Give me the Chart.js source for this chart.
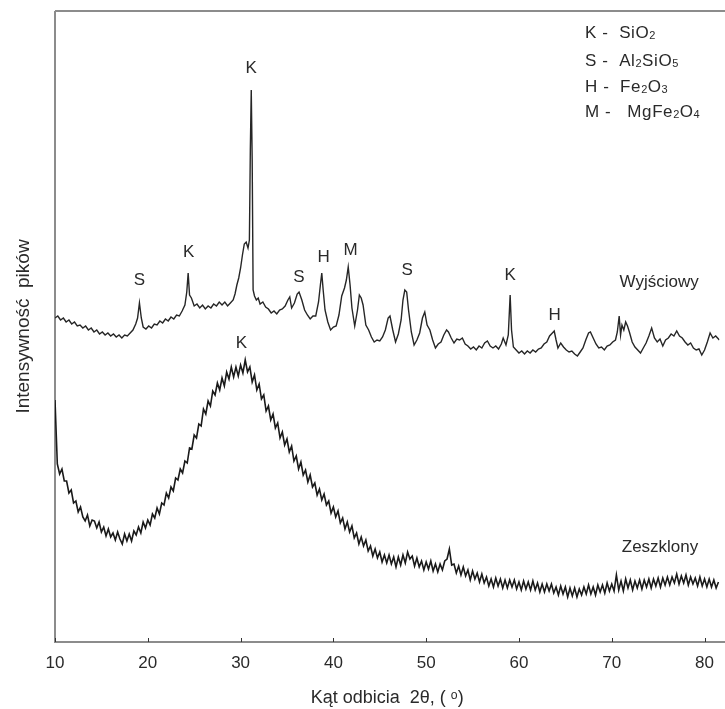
<!DOCTYPE html>
<html>
<head>
<meta charset="utf-8">
<script src="https://cdn.jsdelivr.net/npm/chart.js@4.4.0/dist/chart.umd.min.js"></script>
<style>
  html, body { margin: 0; padding: 0; background: #fff; }
  #wrap { width: 725px; height: 709px; }
</style>
</head>
<body>
<div id="wrap"><canvas id="xrdChart" width="725" height="709"></canvas></div>
<script>
'use strict';

// 2 theta angles and intensities (arbitrary units) of the original sample
let upperAngle = [
  10.0, 10.3, 10.6, 10.9, 11.2, 11.5, 11.8, 12.1, 12.4, 12.7,
  13.0, 13.3, 13.6, 13.9, 14.2, 14.5, 14.8, 15.1, 15.4, 15.7,
  16.0, 16.3, 16.6, 16.9, 17.2, 17.5, 17.8, 18.1, 18.4, 18.7,
  18.9, 19.1, 19.3, 19.5, 19.8, 20.1, 20.4, 20.7, 21.0, 21.3,
  21.6, 21.9, 22.2, 22.5, 22.8, 23.1, 23.4, 23.7, 24.0, 24.2,
  24.35, 24.5, 24.7, 25.0, 25.3, 25.6, 25.9, 26.2, 26.5, 26.8,
  27.1, 27.4, 27.7, 28.0, 28.3, 28.6, 28.9, 29.2, 29.4, 29.6,
  29.8, 30.0, 30.2, 30.4, 30.6, 30.8, 30.95, 31.05, 31.15, 31.25,
  31.35, 31.5, 31.7, 31.9, 32.1, 32.4, 32.7, 33.0, 33.3, 33.6,
  33.9, 34.2, 34.5, 34.8, 35.1, 35.3, 35.5, 35.8, 36.1, 36.3,
  36.6, 36.9, 37.2, 37.5, 37.8, 38.1, 38.4, 38.6, 38.75, 38.9,
  39.1, 39.4, 39.7, 40.0, 40.3, 40.6, 40.9, 41.2, 41.4, 41.6,
  41.8, 42.0, 42.3, 42.6, 42.8, 43.0, 43.2, 43.5, 43.8, 44.1,
  44.4, 44.7, 45.0, 45.3, 45.6, 45.9, 46.1, 46.4, 46.7, 47.0,
  47.3, 47.5, 47.7, 47.9, 48.1, 48.4, 48.7, 49.0, 49.3, 49.6,
  49.85, 50.1, 50.4, 50.7, 51.0, 51.3, 51.6, 51.9, 52.2, 52.4,
  52.7, 53.0, 53.3, 53.6, 53.9, 54.2, 54.5, 54.8, 55.1, 55.4,
  55.7, 56.0, 56.3, 56.6, 56.9, 57.2, 57.5, 57.8, 58.1, 58.3,
  58.6, 58.85, 59.05, 59.2, 59.4, 59.7, 60.0, 60.3, 60.6, 60.9,
  61.2, 61.5, 61.8, 62.1, 62.4, 62.7, 63.0, 63.3, 63.6, 63.8,
  64.0, 64.2, 64.5, 64.8, 65.1, 65.4, 65.7, 66.0, 66.3, 66.6,
  66.9, 67.2, 67.5, 67.7, 68.0, 68.3, 68.6, 68.9, 69.2, 69.5,
  69.8, 70.1, 70.4, 70.6, 70.8, 70.95, 71.1, 71.3, 71.5, 71.7,
  71.9, 72.2, 72.5, 72.8, 73.1, 73.4, 73.7, 74.0, 74.3, 74.6,
  74.9, 75.2, 75.5, 75.8, 76.1, 76.4, 76.7, 77.0, 77.3, 77.6,
  77.9, 78.2, 78.5, 78.8, 79.1, 79.4, 79.7, 80.0, 80.3, 80.6,
  80.9, 81.2, 81.6
];
let upperIntensity = [
  324, 326, 322, 324, 320, 322, 318, 320, 316, 317,
  314, 316, 312, 314, 310, 312, 308, 310, 307, 309,
  306, 308, 305, 307, 304, 307, 306, 309, 312, 318,
  324, 339, 324, 315, 313, 316, 314, 318, 317, 321,
  319, 323, 321, 325, 323, 327, 326, 331, 337, 350,
  369, 347, 344, 336, 338, 334, 337, 333, 336, 334,
  338, 336, 340, 337, 340, 336, 339, 342, 348, 357,
  364, 374, 387, 398, 400, 394, 402, 492, 552, 482,
  352, 346, 342, 344, 338, 340, 335, 333, 329, 331,
  328, 332, 333, 336, 342, 345, 334, 339, 348, 350,
  342, 332, 327, 323, 326, 326, 340, 357, 369, 352,
  332, 320, 312, 315, 316, 327, 346, 354, 362, 375,
  357, 334, 316, 332, 347, 344, 337, 317, 312, 305,
  300, 302, 301, 305, 312, 324, 326, 312, 300, 308,
  322, 342, 352, 350, 332, 310, 297, 302, 309, 324,
  330, 317, 312, 302, 294, 298, 300, 307, 312, 310,
  304, 299, 303, 302, 304, 298, 296, 293, 295, 292,
  296, 294, 299, 301, 296, 294, 296, 293, 298, 304,
  297, 307, 347, 312, 295, 292, 289, 291, 288, 291,
  289, 292, 290, 293, 294, 298, 300, 306, 309, 311,
  302, 294, 299, 295, 292, 290, 291, 288, 286, 290,
  294, 302, 309, 310, 304, 298, 294, 295, 292, 296,
  297, 300, 302, 310, 326, 307, 317, 312, 320, 316,
  310, 300, 295, 292, 289, 294, 299, 306, 314, 304,
  300, 303, 296, 302, 304, 308, 306, 311, 306, 304,
  300, 297, 299, 294, 292, 293, 287, 292, 300, 309,
  304, 306, 302
];

// vitrified sample, sampled every 0.25 degree from 10
let lowerStart = 10;
let lowerStep = 0.25;
let lowerIntensity = [
  242, 178, 168, 173,
  161, 161, 149, 152,
  139, 141, 130, 135,
  125, 121, 127, 116,
  122, 121, 114, 120,
  110, 115, 106, 113,
  105, 109, 102, 110,
  103, 98, 108, 101,
  108, 101, 111, 107,
  115, 109, 120, 114,
  122, 117, 128, 124,
  134, 128, 139, 137,
  149, 144, 155, 151,
  164, 162, 173, 169,
  181, 179, 194, 193,
  207, 204, 218, 216,
  233, 228, 241, 236,
  251, 247, 259, 252,
  264, 256, 270, 263,
  275, 265, 275, 266,
  277, 269, 282, 270,
  275, 260, 267, 252,
  258, 243, 247, 231,
  236, 222, 228, 214,
  219, 204, 210, 197,
  203, 190, 196, 181,
  186, 173, 180, 167,
  172, 160, 167, 155,
  159, 147, 153, 142,
  148, 137, 141, 129,
  135, 125, 131, 119,
  124, 113, 120, 110,
  116, 104, 109, 98,
  105, 96, 102, 91,
  96, 86, 93, 84,
  90, 80, 87, 79,
  87, 78, 85, 75,
  85, 77, 87, 79,
  90, 83, 86, 76,
  84, 75, 81, 72,
  80, 73, 81, 71,
  78, 70, 78, 72,
  81, 83, 93, 77,
  78, 69, 76, 67,
  75, 66, 72, 62,
  71, 63, 69, 60,
  68, 59, 65, 56,
  63, 55, 64, 56,
  63, 54, 62, 54,
  62, 55, 62, 53,
  60, 52, 61, 53,
  60, 52, 61, 52,
  59, 50, 58, 50,
  58, 51, 58, 49,
  55, 47, 56, 48,
  55, 45, 54, 46,
  54, 45, 53, 47,
  55, 48, 57, 48,
  55, 47, 57, 50,
  57, 49, 59, 51,
  58, 51, 67, 52,
  61, 51, 63, 54,
  62, 52, 61, 54,
  62, 53, 62, 55,
  63, 54, 63, 56,
  64, 55, 64, 57,
  65, 57, 65, 59,
  68, 58, 66, 59,
  67, 57, 65, 58,
  64, 56, 65, 56,
  63, 55, 63, 55,
  62, 54, 60
];

let xTicks = [10, 20, 30, 40, 50, 60, 70, 80];

// phase letters above the peaks: text, angle, intensity
let peakText = ['S', 'K', 'K', 'S', 'H', 'M', 'S', 'K', 'H', 'K', 'Wyjściowy', 'Zeszklony'];
let peakAngle = [19.1, 24.4, 31.15, 36.3, 38.95, 41.85, 47.95, 59.05, 63.85, 30.1, 75.1, 75.2];
let peakLevel = [362, 390, 574, 365, 385, 392, 372, 367, 327, 299, 360, 95];

let legendLines = ['K -  SiO_2', 'S -  Al_2SiO_5', 'H -  Fe_2O_3', 'M -   MgFe_2O_4'];

let fontFamily = '"Liberation Sans", Arial, sans-serif';
let textColor = '#2a2a2a';
let axisColor = '#8c8c8c';

function toPoints(angles, values) {
  let pts = [];
  for (let i = 0; i < values.length; i++) {
    pts.push({ x: angles[i], y: values[i] });
  }
  return pts;
}

function lowerPoints() {
  let pts = [];
  lowerIntensity.forEach(function (v, i) {
    pts.push({ x: lowerStart + i * lowerStep, y: v });
  });
  return pts;
}

// text with "_" marking the next character as subscript
function drawRich(ctx, str, x, y, size) {
  let cx = x;
  for (let i = 0; i < str.length; i++) {
    let ch = str[i];
    if (ch === '_') {
      i++;
      ctx.font = Math.round(size * 0.62) + 'px ' + fontFamily;
      ctx.fillText(str[i], cx, y + size * 0.2);
      cx += ctx.measureText(str[i]).width + 0.5;
    } else {
      ctx.font = size + 'px ' + fontFamily;
      ctx.fillText(ch, cx, y);
      cx += ctx.measureText(ch).width + 0.6;
    }
  }
}

let framePlugin = {
  id: 'frame',
  beforeDatasetsDraw: function (chart) {
    let ctx = chart.ctx;
    let area = chart.chartArea;
    let xs = chart.scales.x;
    ctx.save();
    ctx.strokeStyle = axisColor;
    ctx.lineWidth = 2;
    ctx.beginPath();
    ctx.moveTo(area.left, area.top);
    ctx.lineTo(chart.width, area.top);
    ctx.moveTo(area.left, area.top);
    ctx.lineTo(area.left, area.bottom);
    ctx.lineTo(chart.width, area.bottom);
    ctx.stroke();
    ctx.strokeStyle = '#333';
    ctx.lineWidth = 1;
    ctx.beginPath();
    xTicks.forEach(function (t) {
      let px = Math.round(xs.getPixelForValue(t)) + 0.5;
      ctx.moveTo(px, area.bottom);
      ctx.lineTo(px, area.bottom - 4);
    });
    ctx.stroke();
    ctx.restore();
  },
  afterDraw: function (chart) {
    let ctx = chart.ctx;
    let xs = chart.scales.x;
    let ys = chart.scales.y;
    ctx.save();
    ctx.fillStyle = textColor;
    ctx.textAlign = 'center';
    ctx.textBaseline = 'middle';
    ctx.font = '17px ' + fontFamily;
    for (let i = 0; i < peakText.length; i++) {
      ctx.fillText(peakText[i], xs.getPixelForValue(peakAngle[i]), ys.getPixelForValue(peakLevel[i]));
    }
    ctx.textAlign = 'left';
    let rowY = [33, 61, 87, 112];
    legendLines.forEach(function (line, i) {
      drawRich(ctx, line, 585, rowY[i], 17);
    });
    ctx.restore();
  }
};

let ctx = document.getElementById('xrdChart').getContext('2d');

new Chart(ctx, {
  type: 'line',
  data: {
    datasets: [{
      label: 'Wyjściowy',
      data: toPoints(upperAngle, upperIntensity),
      borderColor: '#262626',
      borderWidth: 1.4,
      pointRadius: 0,
      tension: 0
    }, {
      label: 'Zeszklony',
      data: lowerPoints(),
      borderColor: '#1a1a1a',
      borderWidth: 1.6,
      pointRadius: 0,
      tension: 0
    }]
  },
  options: {
    responsive: false,
    animation: false,
    devicePixelRatio: 1,
    layout: { padding: { top: 11, left: 0, right: 0, bottom: 0 } },
    plugins: {
      legend: { display: false },
      tooltip: { enabled: false }
    },
    scales: {
      x: {
        type: 'linear',
        min: 10,
        max: 81.6,
        afterBuildTicks: function (scale) {
          scale.ticks = xTicks.map(function (v) { return { value: v }; });
        },
        afterFit: function (scale) { scale.height = 67; },
        grid: { display: false, drawTicks: false },
        border: { display: false },
        ticks: {
          padding: 11,
          color: textColor,
          font: { family: fontFamily, size: 17 },
          maxRotation: 0
        },
        title: {
          display: true,
          text: 'Kąt odbicia  2θ, ( ᵒ)',
          color: textColor,
          font: { family: fontFamily, size: 18 },
          padding: { top: 0, bottom: 0 }
        }
      },
      y: {
        type: 'linear',
        min: 0,
        max: 631,
        afterFit: function (scale) { scale.width = 55; },
        grid: { display: false, drawTicks: false },
        border: { display: false },
        ticks: { display: false },
        title: {
          display: true,
          text: 'Intensywność  pików',
          color: textColor,
          font: { family: fontFamily, size: 19 },
          padding: { top: 12, bottom: 0 }
        }
      }
    }
  },
  plugins: [framePlugin]
});
</script>
</body>
</html>
